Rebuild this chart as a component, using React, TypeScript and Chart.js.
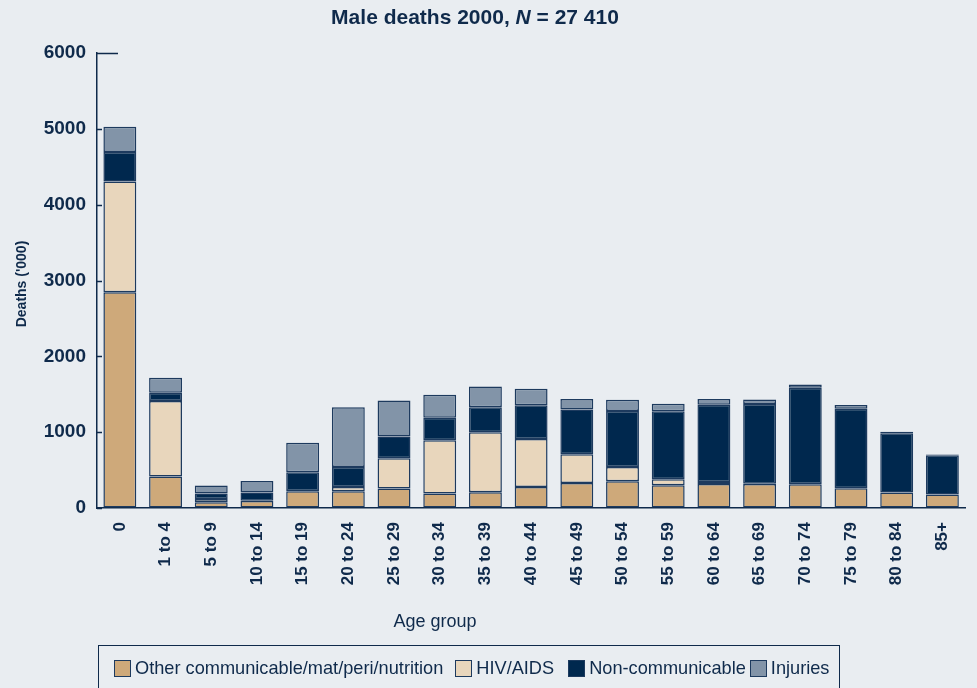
import React, { useEffect, useRef } from "react";
import { Chart, registerables } from "chart.js";

Chart.register(...registerables);

const ageGroups = [
  "0", "1 to 4", "5 to 9", "10 to 14", "15 to 19", "20 to 24", "25 to 29",
  "30 to 34", "35 to 39", "40 to 44", "45 to 49", "50 to 54", "55 to 59",
  "60 to 64", "65 to 69", "70 to 74", "75 to 79", "80 to 84", "85+",
];
const otherCommunicable = [2845, 415, 75, 92, 220, 220, 256, 190, 207, 277, 330, 353, 300, 317, 317, 313, 260, 203, 177];
const hivAids = [1461, 995, 44, 5, 3, 57, 400, 704, 793, 634, 379, 189, 79, 26, 3, 2, 0, 0, 0];
const nonCommunicable = [388, 110, 71, 106, 247, 264, 287, 295, 330, 445, 590, 736, 898, 1017, 1053, 1272, 1048, 783, 519];
const injuries = [334, 198, 106, 154, 391, 789, 476, 304, 273, 215, 140, 149, 97, 79, 57, 40, 49, 20, 8];
const seriesNames = ["Other communicable/mat/peri/nutrition", "HIV/AIDS", "Non-communicable", "Injuries"];
const yTicks = [0, 1000, 2000, 3000, 4000, 5000, 6000];

const titleParts = [
  { text: "Male deaths 2000, ", italic: false },
  { text: "N", italic: true },
  { text: " = 27 410", italic: false },
];
const xTitle = "Age group";
const yTitle = "Deaths ('000)";

const NAVY = "#0f2a4b";
const BORDER = "#1d3a5e";
const BG = "#e9edf1";
const COLORS = ["#cea97a", "#e8d6bc", "#00284e", "#8294a8"];
const FONT = '"Liberation Sans", Arial, Helvetica, sans-serif';

const overlayPlugin = {
  id: "overlay",
  afterDraw(chart: any) {
    const { ctx, chartArea, scales } = chart;
    const y = scales.y;
    ctx.save();
    // inward tick marks
    ctx.strokeStyle = NAVY;
    ctx.lineWidth = 1.5;
    y.ticks.forEach((t: any) => {
      const py = Math.round(y.getPixelForValue(t.value)) + 0.5;
      const len = t.value === 6000 ? 21 : 5;
      ctx.beginPath();
      ctx.moveTo(chartArea.left, py);
      ctx.lineTo(chartArea.left + len, py);
      ctx.stroke();
    });
    // title
    ctx.fillStyle = NAVY;
    ctx.textBaseline = "alphabetic";
    ctx.textAlign = "left";
    const fontFor = (it: boolean) => `${it ? "italic " : ""}bold 21px ${FONT}`;
    let total = 0;
    titleParts.forEach((p) => {
      ctx.font = fontFor(p.italic);
      total += ctx.measureText(p.text).width;
    });
    let x = 475 - total / 2;
    titleParts.forEach((p) => {
      ctx.font = fontFor(p.italic);
      ctx.fillText(p.text, x, 24);
      x += ctx.measureText(p.text).width;
    });
    // x title
    ctx.font = `18px ${FONT}`;
    ctx.textAlign = "center";
    ctx.fillText(xTitle, 435, 627);
    // y title
    ctx.translate(22, 284);
    ctx.rotate(-Math.PI / 2);
    ctx.font = `bold 14px ${FONT}`;
    ctx.textBaseline = "middle";
    ctx.fillText(yTitle, 0, 0);
    ctx.restore();
  },
};

export default function App() {
  const canvasRef = useRef<HTMLCanvasElement>(null);

  useEffect(() => {
    document.body.style.margin = "0";
    document.body.style.background = BG;
    document.body.style.overflow = "hidden";
    const data = [otherCommunicable, hivAids, nonCommunicable, injuries];
    const chart = new Chart(canvasRef.current as HTMLCanvasElement, {
      type: "bar",
      data: {
        labels: ageGroups,
        datasets: data.map((d, i) => ({
          label: seriesNames[i],
          data: d,
          backgroundColor: COLORS[i],
          borderColor: BORDER,
          borderWidth: 1.5,
          borderSkipped: false,
          barPercentage: 0.72,
          categoryPercentage: 1,
        })),
      },
      options: {
        responsive: false,
        animation: false,
        layout: { padding: { top: 53, right: 8, left: 0, bottom: 0 } },
        plugins: {
          legend: { display: false },
          tooltip: { enabled: false },
          title: { display: false },
        },
        scales: {
          x: {
            stacked: true,
            grid: { display: false, drawTicks: false },
            border: { display: true, color: NAVY, width: 1.5 },
            ticks: {
              color: NAVY,
              font: { family: FONT, size: 17, weight: "bold" },
              minRotation: 90,
              maxRotation: 90,
              padding: 14,
              autoSkip: false,
            },
            afterFit: (s: any) => {
              s.height = 180;
            },
          },
          y: {
            stacked: true,
            min: 0,
            max: 6000,
            afterBuildTicks: (s: any) => {
              s.ticks = yTicks.map((v) => ({ value: v }));
            },
            grid: { display: true, drawOnChartArea: false, drawTicks: false },
            border: { display: true, color: NAVY, width: 1.5 },
            ticks: {
              color: NAVY,
              font: { family: FONT, size: 19, weight: "bold" },
              padding: 11,
              callback: (v: any) => String(v),
            },
            afterFit: (s: any) => {
              s.width = 97;
            },
          },
        },
      },
      plugins: [overlayPlugin],
    });
    return () => chart.destroy();
  }, []);

  const swatch = (c: string) => (
    <span
      style={{
        display: "inline-block",
        flexShrink: 0,
        width: 17,
        height: 17,
        background: c,
        border: `1.5px solid ${BORDER}`,
        boxSizing: "border-box",
        marginRight: 4,
      }}
    />
  );

  return (
    <div style={{ position: "fixed", left: 0, top: 0, width: 977, height: 688, background: BG, overflow: "hidden" }}>
      <canvas ref={canvasRef} width={977} height={688} style={{ position: "absolute", left: 0, top: 0 }} />
      <div
        style={{
          position: "absolute",
          left: 98,
          top: 645,
          width: 742,
          height: 60,
          border: `1px solid ${NAVY}`,
          boxSizing: "border-box",
          fontFamily: FONT,
          fontSize: 18.2,
          color: NAVY,
          display: "flex",
          alignItems: "flex-start",
          paddingLeft: 15,
          paddingTop: 12,
          whiteSpace: "nowrap",
        }}
      >
        {seriesNames.map((n, i) => (
          <span
            key={n}
            style={{
              display: "inline-flex",
              flexShrink: 0,
              whiteSpace: "nowrap",
              alignItems: "center",
              marginRight: i === 0 ? 12 : i === 1 ? 14 : 4,
            }}
          >
            {swatch(COLORS[i])}
            <span>{n}</span>
          </span>
        ))}
      </div>
    </div>
  );
}
